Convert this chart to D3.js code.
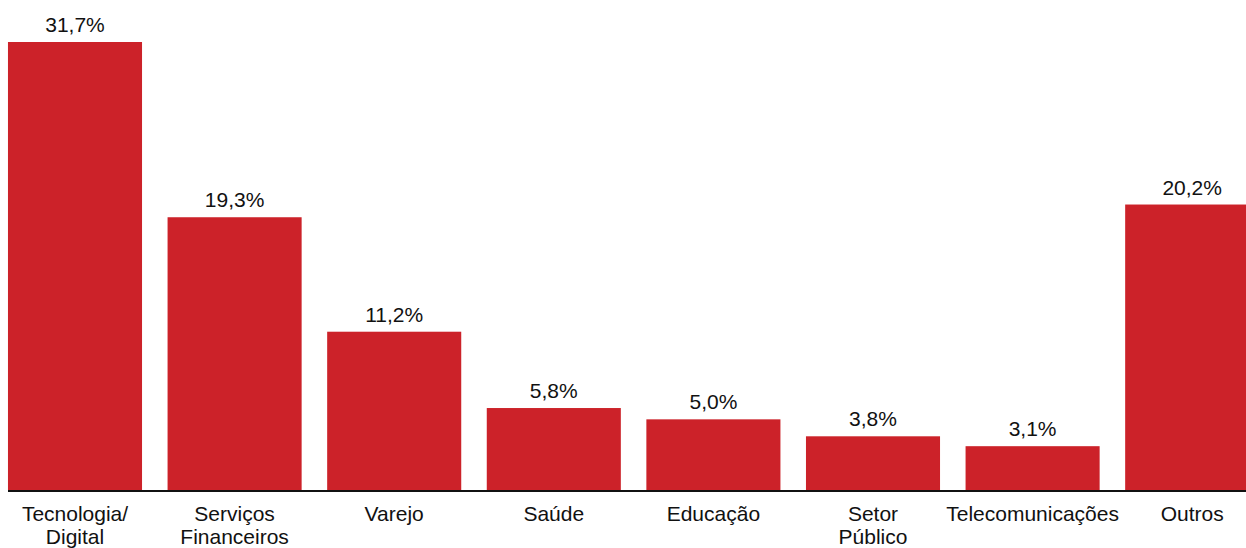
<!DOCTYPE html>
<html>
<head>
<meta charset="utf-8">
<script src="https://cdn.jsdelivr.net/npm/d3@7"></script>
<style>
  body { margin: 0; background: #fff; }
  text { font-family: "Liberation Sans", Arial, sans-serif; fill: #111; }
</style>
</head>
<body>
<div id="chart"></div>
<script>
// data
const categories = ["Tecnologia/\nDigital", "Serviços\nFinanceiros", "Varejo", "Saúde", "Educação", "Setor\nPúblico", "Telecomunicações", "Outros"];
const values = [31.7, 19.3, 11.2, 5.8, 5.0, 3.8, 3.1, 20.2];

const width = 1246, height = 548;
const baseline = 490;

const svg = d3.select("#chart")
    .append("svg")
    .attr("width", width)
    .attr("height", height);

const data = categories.map((c, i) => ({ category: c, value: values[i] }));

const x = d3.scaleBand()
    .domain(categories)
    .range([-4.8, 1272])
    .paddingInner(0.16)
    .paddingOuter(0.08);

const y = d3.scaleLinear()
    .domain([0, 31.7])
    .range([baseline, 42]);

svg.selectAll(".bar")
    .data(data)
    .enter().append("rect")
    .attr("class", "bar")
    .attr("x", d => x(d.category))
    .attr("width", x.bandwidth())
    .attr("y", d => y(d.value))
    .attr("height", d => baseline - y(d.value))
    .attr("fill", "#cc2229");

// value labels
svg.selectAll(".val")
    .data(data)
    .enter().append("text")
    .attr("class", "val")
    .attr("x", d => x(d.category) + x.bandwidth() / 2)
    .attr("y", d => y(d.value) - 10)
    .attr("text-anchor", "middle")
    .style("font-size", "21px")
    .text(d => d.value.toFixed(1).replace(".", ",") + "%");

// baseline
svg.append("line")
    .attr("x1", 8)
    .attr("x2", width)
    .attr("y1", baseline + 1)
    .attr("y2", baseline + 1)
    .attr("stroke", "#111")
    .attr("stroke-width", 2);

// category labels
const labels = svg.selectAll(".cat")
    .data(data)
    .enter().append("text")
    .attr("class", "cat")
    .attr("text-anchor", "middle")
    .style("font-size", "21px");

labels.selectAll("tspan")
    .data(d => d.category.split("\n").map(t => ({ t, cx: x(d.category) + x.bandwidth() / 2 })))
    .enter().append("tspan")
    .attr("x", d => d.cx)
    .attr("y", (d, i) => 521 + i * 23)
    .text(d => d.t);
</script>
</body>
</html>
